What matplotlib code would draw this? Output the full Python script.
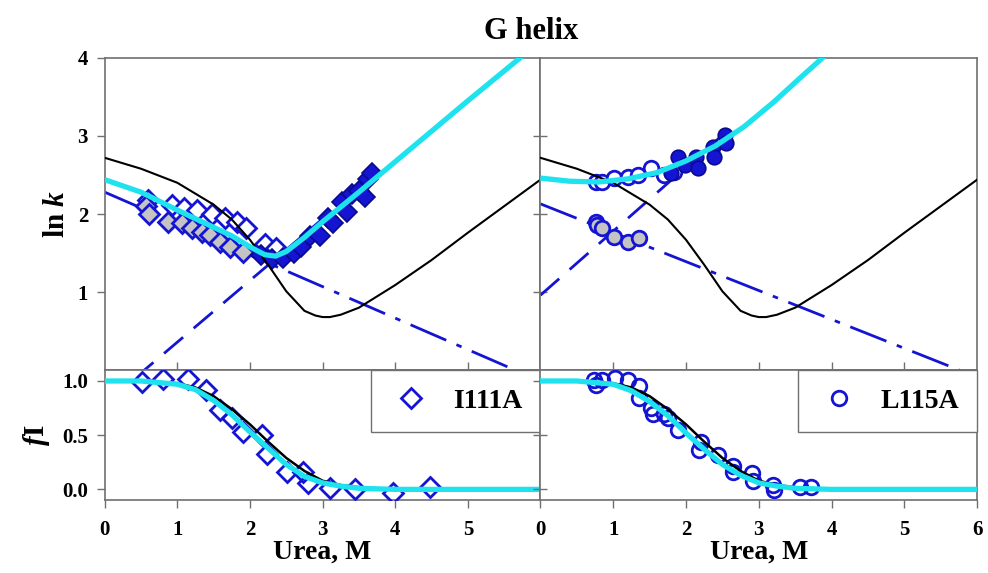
import numpy as np
import matplotlib
matplotlib.use('Agg')
import matplotlib.pyplot as plt

plt.rcParams['font.family'] = 'Liberation Serif'
plt.rcParams['font.weight'] = 'bold'
plt.rcParams['axes.labelweight'] = 'bold'
plt.rcParams['mathtext.fontset'] = 'custom'
plt.rcParams['mathtext.it'] = 'Liberation Serif:italic:bold'
plt.rcParams['mathtext.rm'] = 'Liberation Serif:bold'

# ---- wild-type chevron / fraction (black), same in both panels
wt_x = [0, 0.5, 1.0, 1.5, 1.75, 2.0, 2.25, 2.5, 2.75, 2.9, 3.0, 3.1, 3.25, 3.5, 4.0, 4.5, 5.0, 5.5, 6.0]
wt_lnk = [2.72, 2.58, 2.40, 2.12, 1.93, 1.67, 1.35, 1.01, 0.76, 0.70, 0.68, 0.68, 0.71, 0.80, 1.09, 1.41, 1.76, 2.10, 2.44]
fx = [0, 0.5, 1.0, 1.25, 1.5, 1.75, 2.0, 2.25, 2.5, 2.75, 3.0, 3.25, 3.5, 4.0, 5.0, 6.0]
wt_fi = [1.0, 1.0, 0.98, 0.94, 0.86, 0.74, 0.60, 0.44, 0.29, 0.17, 0.08, 0.04, 0.02, 0.0, 0.0, 0.0]

# ---- I111A
i111_fit_x = [0, 0.5, 1.0, 1.5, 1.75, 2.0, 2.2, 2.35, 2.5, 2.75, 3.0, 3.5, 4.0, 5.0, 5.72, 6.0]
i111_fit_lnk = [2.44, 2.28, 2.05, 1.83, 1.72, 1.58, 1.48, 1.46, 1.52, 1.70, 1.90, 2.28, 2.67, 3.45, 4.0, 4.21]
i111_kf_x = [0, 6]
i111_kf = [2.28, -0.14]
i111_ku_x = [0, 3.7]
i111_ku = [-0.43, 2.49]
i111_open_x = [0.59, 0.92, 1.09, 1.27, 1.48, 1.66, 1.82, 1.94, 2.21, 2.36]
i111_open_y = [2.18, 2.12, 2.08, 2.05, 2.00, 1.95, 1.90, 1.82, 1.62, 1.56]
i111_grey_x = [0.57, 0.61, 0.87, 1.06, 1.20, 1.34, 1.45, 1.59, 1.72, 1.90]
i111_grey_y = [2.10, 2.00, 1.90, 1.88, 1.82, 1.77, 1.73, 1.64, 1.58, 1.51]
i111_fill_x = [2.15, 2.30, 2.45, 2.60, 2.70, 2.83, 2.97, 3.08, 3.15, 3.27, 3.33, 3.40, 3.50, 3.58, 3.62, 3.68]
i111_fill_y = [1.47, 1.42, 1.44, 1.50, 1.58, 1.72, 1.72, 1.95, 1.88, 2.15, 2.03, 2.26, 2.30, 2.22, 2.45, 2.52]
i111_fi_fit = [1.0, 1.0, 0.97, 0.92, 0.82, 0.69, 0.53, 0.38, 0.23, 0.12, 0.06, 0.03, 0.01, 0.0, 0.0, 0.0]
i111_fi_x = [0.51, 0.80, 1.14, 1.39, 1.59, 1.75, 1.90, 2.17, 2.23, 2.51, 2.73, 2.80, 3.10, 3.45, 3.97, 4.48]
i111_fi_y = [0.99, 1.02, 1.02, 0.92, 0.73, 0.66, 0.53, 0.50, 0.33, 0.16, 0.16, 0.06, 0.01, 0.00, -0.03, 0.02]

# ---- L115A
l115_fit_x = [0, 0.4, 0.8, 1.2, 1.6, 2.0, 2.4, 2.8, 3.2, 3.6, 3.9, 4.2]
l115_fit_lnk = [2.46, 2.42, 2.41, 2.45, 2.53, 2.68, 2.87, 3.12, 3.43, 3.77, 4.02, 4.30]
l115_kf_x = [0, 6]
l115_kf = [2.13, -0.09]
l115_ku_x = [0, 2.5]
l115_ku = [0.96, 3.01]
l115_open_x = [0.76, 0.85, 1.01, 1.20, 1.34, 1.52, 1.70, 1.84]
l115_open_y = [2.41, 2.41, 2.46, 2.47, 2.50, 2.59, 2.50, 2.54]
l115_grey_x = [0.76, 0.78, 0.85, 1.01, 1.20, 1.36]
l115_grey_y = [1.90, 1.86, 1.82, 1.71, 1.64, 1.69]
l115_fill_x = [1.79, 1.89, 1.98, 2.14, 2.16, 2.37, 2.39, 2.53, 2.55]
l115_fill_y = [2.53, 2.73, 2.63, 2.73, 2.59, 2.86, 2.73, 3.01, 2.91]
l115_fi_fit = [1.0, 1.0, 0.97, 0.91, 0.81, 0.68, 0.52, 0.37, 0.23, 0.13, 0.06, 0.03, 0.01, 0.0, 0.0, 0.0]
l115_fi_x = [0.73, 0.76, 0.85, 1.03, 1.20, 1.35, 1.35, 1.52, 1.54, 1.70, 1.75, 1.89, 2.21, 2.18, 2.44, 2.65,
             2.65, 2.90, 2.92, 3.20, 3.21, 3.56, 3.72]
l115_fi_y = [1.01, 0.96, 1.01, 1.03, 1.01, 0.95, 0.84, 0.75, 0.70, 0.70, 0.66, 0.55, 0.44, 0.36, 0.32, 0.22,
             0.16, 0.15, 0.08, 0.04, -0.01, 0.02, 0.02]

BLUE = '#1414d2'
CYAN = '#1ee3ef'
GREY = '#c4c4c4'
SPINE = '#707070'


def StyleAxes(ax, top):
    for s in ax.spines.values():
        s.set_color(SPINE)
        s.set_linewidth(1.2)
    ax.set_xlim(0, 6)
    ax.tick_params(colors='black', labelsize=15, width=1.0, color=SPINE)
    if top:
        ax.set_ylim(0, 4)
        ax.set_xticks([1, 2, 3, 4, 5])
        ax.tick_params(axis='x', direction='in', length=6, labelbottom=False)
    else:
        ax.set_ylim(-0.1, 1.1)
        ax.set_yticks([0.0, 0.5, 1.0])
        ax.set_xticks(range(7))
        ax.tick_params(axis='x', direction='out', length=6, pad=8)


def ChevronPanel(ax, fx_, fy, kfx, kf, kux, ku, ox, oy, gx, gy, bx, by, mk, ms):
    ax.plot(kfx, kf, color=BLUE, lw=2.0, dashes=[14, 4, 2, 4], zorder=2)
    ax.plot(kux, ku, color=BLUE, lw=2.0, dashes=[9, 5], zorder=2)
    ax.plot(ox, oy, mk, ms=ms, mfc='white', mec=BLUE, mew=2.0, ls='none', zorder=3)
    ax.plot(gx, gy, mk, ms=ms, mfc=GREY, mec=BLUE, mew=2.0, ls='none', zorder=3)
    ax.plot(bx, by, mk, ms=ms, mfc=BLUE, mec='#0a0a90', mew=1.2, ls='none', zorder=3)
    ax.plot(wt_x, wt_lnk, color='black', lw=1.5, zorder=4)
    ax.plot(fx_, fy, color=CYAN, lw=3.8, zorder=5, solid_capstyle='butt')


def FractionPanel(ax, px, py, fit, mk, ms, name):
    ax.plot(px, py, mk, ms=ms, mfc='none', mec=BLUE, mew=2.0, ls='none', zorder=3, label=name)
    ax.plot(fx, wt_fi, color='black', lw=1.8, zorder=4)
    ax.plot(fx, fit, color=CYAN, lw=3.8, zorder=5)
    leg = ax.legend(loc='upper right', bbox_to_anchor=(1, 1), borderaxespad=0, fancybox=False,
                    edgecolor=SPINE, framealpha=1, prop={'size': 20, 'weight': 'bold'},
                    handlelength=1.6, handletextpad=0.7, borderpad=0.65)
    leg.get_frame().set_linewidth(1.0)


fig = plt.figure(figsize=(9.88, 5.73), dpi=100)
L, M, R = 0.106, 0.547, 0.989
B, Mid, T = 0.127, 0.354, 0.899

ax_tl = fig.add_axes([L, Mid, M - L, T - Mid])
ax_tr = fig.add_axes([M, Mid, R - M, T - Mid])
ax_bl = fig.add_axes([L, B, M - L, Mid - B])
ax_br = fig.add_axes([M, B, R - M, Mid - B])

ChevronPanel(ax_tl, i111_fit_x, i111_fit_lnk, i111_kf_x, i111_kf, i111_ku_x, i111_ku,
             i111_open_x, i111_open_y, i111_grey_x, i111_grey_y, i111_fill_x, i111_fill_y, 'D', 10.5)
ChevronPanel(ax_tr, l115_fit_x, l115_fit_lnk, l115_kf_x, l115_kf, l115_ku_x, l115_ku,
             l115_open_x, l115_open_y, l115_grey_x, l115_grey_y, l115_fill_x, l115_fill_y, 'o', 10.5)
FractionPanel(ax_bl, i111_fi_x, i111_fi_y, i111_fi_fit, 'D', 10.5, 'I111A')
FractionPanel(ax_br, l115_fi_x, l115_fi_y, l115_fi_fit, 'o', 10.5, 'L115A')

for ax in [ax_tl, ax_tr]:
    StyleAxes(ax, True)
for ax in [ax_bl, ax_br]:
    StyleAxes(ax, False)

ax_tl.set_yticks([1, 2, 3, 4])
ax_tl.tick_params(axis='y', direction='out', length=6, pad=6)
ax_bl.tick_params(axis='y', direction='out', length=6, pad=6)
ax_bl.set_xticks(range(6))
ax_tr.set_yticks([1, 2, 3])
ax_tr.tick_params(axis='y', direction='inout', length=10, labelleft=False)
ax_br.tick_params(axis='y', direction='inout', length=10, labelleft=False)
ax_bl.set_yticklabels(['0.0', '0.5', '1.0'])

ax_tl.set_ylabel('ln $k$', fontsize=21)
ax_tl.yaxis.set_label_coords(-0.08, 0.5)
ax_bl.set_ylabel('$f$I', fontsize=21)
ax_bl.yaxis.set_label_coords(-0.12, 0.5)
ax_bl.set_xlabel('Urea, M', fontsize=20, labelpad=0)
ax_br.set_xlabel('Urea, M', fontsize=20, labelpad=0)
fig.text(0.538, 0.945, 'G helix', fontsize=22, fontweight='bold', ha='center', va='center')

plt.savefig('out.png', dpi=100)
